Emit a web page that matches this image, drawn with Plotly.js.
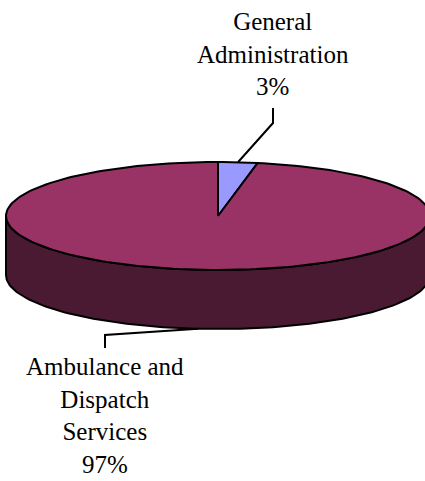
<!DOCTYPE html>
<html>
<head>
<meta charset="utf-8">
<script src="https://cdn.plot.ly/plotly-3.0.1.min.js"></script>
<style>html,body{margin:0;padding:0;background:#fff;}#chart{width:425px;height:481px;}</style>
</head>
<body>
<div id="chart"></div>
<script>
// ---- data ----
const categories = ['General Administration', 'Ambulance and Dispatch Services'];
const values = [3, 97];
const labelLines = [['General', 'Administration'], ['Ambulance and', 'Dispatch', 'Services']];

// ---- styling / layout ----
const topColors = ['#9999FF', '#993366'];
const sideColors = ['#4D4D80', '#4A1A33'];
const CX = 218, CY = 216, RX = 212, RY = 54, DEPTH = 59;
const labelAnchors = [{x: 273, y: 108, side: 'up', shift: 6}, {x: 105, y: 348, side: 'down', shift: -3}];
const FONT = {family: 'Liberation Serif, Times New Roman, serif', size: 25, color: '#000'};

const total = values.reduce((a, b) => a + b, 0);
// angle measured clockwise from 12 o'clock, in degrees
function pt(deg, dy) {
  const r = deg * Math.PI / 180;
  return [CX + RX * Math.sin(r), CY - RY * Math.cos(r) + (dy || 0)];
}
function arc(a0, a1, dy) {
  const n = Math.max(2, Math.ceil(Math.abs(a1 - a0) / 1.5));
  const out = [];
  for (let i = 0; i <= n; i++) out.push(pt(a0 + (a1 - a0) * i / n, dy));
  return out;
}

const traces = [];
const slices = [];
let acc = 0;
values.forEach((v, i) => {
  const a0 = acc / total * 360;
  acc += v;
  const a1 = acc / total * 360;
  slices.push({a0, a1, mid: (a0 + a1) / 2});
});

// side faces (front half: 90..270 degrees)
slices.forEach((s, i) => {
  const lo = Math.max(s.a0, 90), hi = Math.min(s.a1, 270);
  if (hi <= lo) return;
  const topArc = arc(lo, hi, 0);
  const botArc = arc(hi, lo, DEPTH);
  const pts = topArc.concat(botArc);
  pts.push(pts[0]);
  traces.push({
    type: 'scatter', mode: 'lines', fill: 'toself',
    x: pts.map(p => p[0]), y: pts.map(p => p[1]),
    fillcolor: sideColors[i], line: {color: '#000', width: 2},
    hoverinfo: 'skip', showlegend: false
  });
});

// top faces
slices.forEach((s, i) => {
  const pts = [[CX, CY]].concat(arc(s.a0, s.a1, 0));
  pts.push([CX, CY]);
  traces.push({
    type: 'scatter', mode: 'lines', fill: 'toself',
    x: pts.map(p => p[0]), y: pts.map(p => p[1]),
    fillcolor: topColors[i], line: {color: '#000', width: 2},
    hoverinfo: 'text', text: categories[i], showlegend: false
  });
});

// leader lines + labels
const annotations = [];
slices.forEach((s, i) => {
  const frontSide = (s.mid > 90 && s.mid < 270);
  const start = pt(s.mid, frontSide ? DEPTH : 0);
  const anc = labelAnchors[i];
  const elbowY = anc.side === 'up' ? anc.y + 15 : anc.y - 13;
  const xs = [start[0], anc.x, anc.x];
  const ys = [start[1], elbowY, anc.y];
  traces.push({
    type: 'scatter', mode: 'lines', x: xs, y: ys,
    line: {color: '#000', width: 2}, hoverinfo: 'skip', showlegend: false
  });
  const pct = Math.round(values[i] / total * 100) + '%';
  annotations.push({
    x: anc.x, y: anc.y, xref: 'x', yref: 'y',
    text: labelLines[i].concat([pct]).join('<br>'),
    showarrow: false, align: 'center', xanchor: 'center',
    yanchor: anc.side === 'up' ? 'bottom' : 'top',
    yshift: anc.shift,
    font: FONT
  });
});

const layout = {
  width: 425, height: 481,
  margin: {l: 0, r: 0, t: 0, b: 0},
  paper_bgcolor: '#fff', plot_bgcolor: '#fff',
  xaxis: {range: [0, 425], visible: false, fixedrange: true},
  yaxis: {range: [481, 0], visible: false, fixedrange: true},
  annotations: annotations,
  showlegend: false
};
Plotly.newPlot('chart', traces, layout, {displayModeBar: false, staticPlot: true});
</script>
</body>
</html>
